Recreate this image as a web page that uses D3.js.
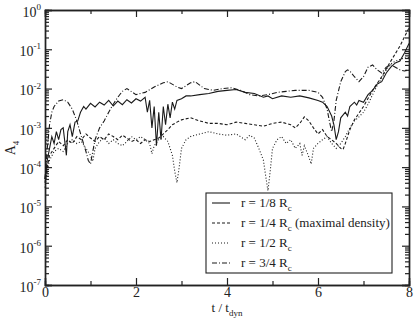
<!DOCTYPE html>
<html>
<head>
<meta charset="utf-8">
<script src="https://cdn.jsdelivr.net/npm/d3@7"></script>
<style>
  body { margin: 0; background: #fff; }
  svg text { font-family: "Liberation Serif", "DejaVu Serif", serif !important; }
  .axis path { stroke: #222; stroke-width: 1.4; }
  .axis line { stroke: #222; stroke-width: 1.2; }
  .series { fill: none; stroke: #1a1a1a; stroke-width: 1.1; }
</style>
</head>
<body>
<div id="container"></div>
<script>
// ticks
const xMajor = [0, 2, 4, 6, 8];
const xMinor = [1, 3, 5, 7];
const yExponents = [-7, -6, -5, -4, -3, -2, -1, 0];

// r = 1/8 Rc (solid)
const tSolid = [0, 0.05, 0.1, 0.15, 0.2, 0.25, 0.3, 0.35, 0.4, 0.44, 0.47, 0.5, 0.55, 0.6, 0.66, 0.72, 0.78, 0.85, 0.9, 1.0, 1.1, 1.2, 1.3, 1.4, 1.5, 1.6, 1.7, 1.8, 1.9, 2.0, 2.1, 2.2, 2.25, 2.3, 2.35, 2.4, 2.45, 2.5, 2.55, 2.6, 2.65, 2.7, 2.75, 2.8, 2.85, 2.9, 3.0, 3.1, 3.2, 3.4, 3.6, 3.8, 4.0, 4.2, 4.4, 4.6, 4.8, 4.9, 5.0, 5.2, 5.4, 5.6, 5.8, 6.0, 6.1, 6.2, 6.3, 6.35, 6.4, 6.45, 6.5, 6.6, 6.65, 6.7, 6.8, 6.85, 6.9, 7.0, 7.1, 7.2, 7.3, 7.4, 7.5, 7.6, 7.7, 7.8, 7.9, 8.0];
const aSolid = [5e-5, 1.5e-4, 3e-4, 6e-4, 4e-4, 8e-4, 5e-4, 9e-4, 1.0e-3, 4e-4, 2e-4, 8e-4, 1.2e-3, 6e-4, 1.4e-3, 1.5e-3, 2.5e-3, 3.5e-3, 3e-3, 4.2e-3, 3.4e-3, 4.5e-3, 3.8e-3, 5e-3, 3.6e-3, 4.8e-3, 3.9e-3, 5.2e-3, 4.3e-3, 5.5e-3, 4.8e-3, 6e-3, 2.5e-3, 5e-3, 1.0e-3, 3.5e-3, 3.5e-4, 2.5e-3, 5e-4, 3.5e-3, 1.2e-3, 4e-3, 1.8e-3, 4.5e-3, 3e-3, 5e-3, 5.5e-3, 6.5e-3, 6.5e-3, 7e-3, 7.5e-3, 8.5e-3, 9e-3, 9.5e-3, 8e-3, 7.5e-3, 6e-3, 6.5e-3, 5.5e-3, 6.5e-3, 6e-3, 6.5e-3, 5.8e-3, 5e-3, 4.5e-3, 3.5e-3, 2e-3, 1.2e-3, 5e-4, 8e-4, 1.8e-3, 2.5e-3, 2e-3, 3.5e-3, 4.5e-3, 3.8e-3, 5e-3, 4.5e-3, 7e-3, 9e-3, 1.3e-2, 1.5e-2, 2.5e-2, 3.5e-2, 4.5e-2, 5e-2, 8e-2, 0.14];

// r = 1/4 Rc (dashed)
const tDashed = [0, 0.05, 0.1, 0.2, 0.3, 0.4, 0.5, 0.6, 0.7, 0.8, 0.9, 1.0, 1.1, 1.2, 1.3, 1.4, 1.5, 1.6, 1.7, 1.8, 1.9, 2.0, 2.1, 2.2, 2.3, 2.4, 2.5, 2.6, 2.7, 2.8, 2.9, 3.0, 3.2, 3.4, 3.6, 3.8, 4.0, 4.2, 4.4, 4.6, 4.8, 5.0, 5.2, 5.4, 5.5, 5.6, 5.7, 5.8, 5.9, 6.0, 6.1, 6.2, 6.3, 6.4, 6.5, 6.55, 6.6, 6.7, 6.8, 7.0, 7.2, 7.4, 7.6, 7.8, 8.0];
const aDashed = [4e-5, 1e-4, 2e-4, 3e-4, 4.5e-4, 3.5e-4, 5e-4, 4e-4, 6e-4, 5e-4, 7e-4, 5.5e-4, 4.5e-4, 6e-4, 5e-4, 7e-4, 6e-4, 5e-4, 6.5e-4, 5.5e-4, 4.5e-4, 5e-4, 4e-4, 5e-4, 4.5e-4, 5e-4, 5.5e-4, 7e-4, 9e-4, 1.2e-3, 1.4e-3, 1.6e-3, 1.8e-3, 1.5e-3, 1.3e-3, 1.3e-3, 1.2e-3, 1.4e-3, 1.3e-3, 1.2e-3, 1.1e-3, 1.3e-3, 1.4e-3, 1.2e-3, 1.0e-3, 1.3e-3, 1.9e-3, 1.5e-3, 1.0e-3, 7e-4, 9e-4, 6e-4, 5e-4, 4e-4, 3e-4, 2.8e-4, 4e-4, 9e-4, 1.6e-3, 3.5e-3, 9e-3, 2e-2, 5e-2, 0.12, 0.35];

// r = 1/2 Rc (dotted)
const tDotted = [0, 0.05, 0.1, 0.2, 0.3, 0.4, 0.5, 0.6, 0.7, 0.8, 0.9, 1.0, 1.05, 1.1, 1.2, 1.3, 1.4, 1.5, 1.6, 1.7, 1.8, 1.9, 2.0, 2.1, 2.2, 2.3, 2.35, 2.4, 2.5, 2.6, 2.7, 2.8, 2.85, 2.9, 2.95, 3.0, 3.1, 3.2, 3.4, 3.6, 3.8, 4.0, 4.2, 4.4, 4.5, 4.6, 4.7, 4.8, 4.85, 4.9, 4.95, 5.0, 5.1, 5.2, 5.3, 5.4, 5.5, 5.6, 5.65, 5.7, 5.8, 5.85, 5.9, 6.0, 6.1, 6.2, 6.3, 6.4, 6.5, 6.6, 6.7, 6.8, 6.9, 7.0, 7.1, 7.2, 7.3, 7.4, 7.5, 7.6, 7.7, 7.8, 7.9, 8.0];
const aDotted = [3e-5, 8e-5, 1.5e-4, 2.5e-4, 3e-4, 2.5e-4, 4e-4, 5e-4, 4e-4, 4.5e-4, 3e-4, 2e-4, 1.4e-4, 3e-4, 4.5e-4, 5.5e-4, 4e-4, 5e-4, 4e-4, 3.5e-4, 4.5e-4, 6e-4, 5e-4, 6e-4, 5e-4, 4e-4, 2.2e-4, 3.5e-4, 5e-4, 6e-4, 4.5e-4, 2e-4, 8e-5, 4e-5, 1e-4, 3e-4, 5e-4, 6e-4, 7e-4, 8e-4, 7e-4, 6.5e-4, 7e-4, 5e-4, 6.5e-4, 5.5e-4, 3e-4, 1.5e-4, 6e-5, 2.5e-5, 8e-5, 3e-4, 5e-4, 6e-4, 4e-4, 5e-4, 3e-4, 4e-4, 2e-4, 3.5e-4, 1.8e-4, 1.2e-4, 3e-4, 4e-4, 5e-4, 6e-4, 4e-4, 3e-4, 4e-4, 6e-4, 1e-3, 1.5e-3, 1.9e-3, 2.5e-3, 4e-3, 7e-3, 1.2e-2, 1.8e-2, 3e-2, 4.2e-2, 5e-2, 5.5e-2, 6e-2, 6.2e-2];

// r = 3/4 Rc (dash-dot)
const tDashDot = [0, 0.05, 0.1, 0.15, 0.2, 0.3, 0.4, 0.5, 0.6, 0.7, 0.8, 0.9, 0.95, 1.0, 1.05, 1.1, 1.2, 1.3, 1.4, 1.5, 1.6, 1.7, 1.8, 2.0, 2.2, 2.4, 2.6, 2.7, 2.9, 3.0, 3.2, 3.3, 3.5, 3.7, 3.9, 4.1, 4.3, 4.5, 4.7, 4.9, 5.1, 5.3, 5.5, 5.8, 6.0, 6.1, 6.2, 6.25, 6.3, 6.35, 6.4, 6.5, 6.6, 6.65, 6.7, 6.8, 6.9, 7.0, 7.1, 7.2, 7.3, 7.4, 7.5, 7.6, 7.7, 7.8, 7.9, 8.0];
const aDashDot = [5e-5, 3e-4, 1.2e-3, 2.5e-3, 3.5e-3, 4.8e-3, 5.2e-3, 4.5e-3, 3e-3, 1.5e-3, 6e-4, 2.5e-4, 1.5e-4, 1.2e-4, 2.5e-4, 5e-4, 1e-3, 1.5e-3, 2.5e-3, 4e-3, 6e-3, 8.5e-3, 1e-2, 7e-3, 8e-3, 1.1e-2, 1.4e-2, 1.5e-2, 1.1e-2, 1e-2, 1.4e-2, 1.5e-2, 1e-2, 9e-3, 1e-2, 1.05e-2, 9e-3, 7e-3, 6.5e-3, 7e-3, 8e-3, 8.5e-3, 9e-3, 9e-3, 8e-3, 6e-3, 3e-3, 1.5e-3, 8e-4, 1.5e-3, 5e-3, 1.5e-2, 2.7e-2, 3e-2, 2.8e-2, 2e-2, 1.5e-2, 2e-2, 3.5e-2, 4e-2, 3e-2, 2.5e-2, 3.5e-2, 4e-2, 3.5e-2, 3e-2, 2.8e-2, 3e-2];

const legendLabels = ['r = 1/8 R', 'r = 1/4 R', 'r = 1/2 R', 'r = 3/4 R'];
const legendExtra = ['', ' (maximal density)', '', ''];
const dashes = [null, '3,2', '1,2', '5,2,1,2'];

const width = 415;
const height = 321;
const margin = { top: 10, right: 6, bottom: 36, left: 45 };

const svg = d3.select('#container').append('svg')
    .attr('width', width)
    .attr('height', height);

const xScale = d3.scaleLinear().domain([0, 8]).range([margin.left, width - margin.right]);
const yScale = d3.scaleLog().domain([1e-7, 1]).range([height - margin.bottom, margin.top]);

const x0 = margin.left, x1 = width - margin.right;
const y0 = height - margin.bottom, y1 = margin.top;

// minor log ticks
const yMinor = [];
yExponents.slice(0, -1).forEach(e => {
    for (let k = 2; k <= 9; k++) yMinor.push(k * Math.pow(10, e));
});
const yMajor = yExponents.map(e => Math.pow(10, e));

// x axes (bottom labelled, top ticks only)
svg.append('g').attr('class', 'axis').attr('transform', `translate(0,${y0})`)
    .call(d3.axisBottom(xScale).tickValues(xMinor).tickSize(-4).tickFormat(''));
const xAxis = svg.append('g').attr('class', 'axis').attr('transform', `translate(0,${y0})`)
    .call(d3.axisBottom(xScale).tickValues(xMajor).tickSize(-7).tickPadding(2).tickFormat(d3.format('d')));
xAxis.selectAll('text').attr('font-size', 14).attr('fill', '#222');

svg.append('g').attr('class', 'axis').attr('transform', `translate(0,${y1})`)
    .call(d3.axisTop(xScale).tickValues(xMinor).tickSize(-4).tickFormat(''));
svg.append('g').attr('class', 'axis').attr('transform', `translate(0,${y1})`)
    .call(d3.axisTop(xScale).tickValues(xMajor).tickSize(-7).tickFormat(''));

// y axes
svg.append('g').attr('class', 'axis').attr('transform', `translate(${x0},0)`)
    .call(d3.axisLeft(yScale).tickValues(yMinor).tickSize(-4).tickFormat(''));
const yAxis = svg.append('g').attr('class', 'axis').attr('transform', `translate(${x0},0)`)
    .call(d3.axisLeft(yScale).tickValues(yMajor).tickSize(-7).tickPadding(4).tickFormat(''));
yAxis.selectAll('.tick text').each(function (d) {
    const t = d3.select(this)
        .attr('font-size', 14).attr('fill', '#222')
        .attr('dy', '0.45em');
    t.append('tspan').text('10');
    t.append('tspan').attr('font-size', 9).attr('dy', '-0.75em').text(Math.round(Math.log10(d)));
});

svg.append('g').attr('class', 'axis').attr('transform', `translate(${x1},0)`)
    .call(d3.axisRight(yScale).tickValues(yMinor).tickSize(-4).tickFormat(''));
svg.append('g').attr('class', 'axis').attr('transform', `translate(${x1},0)`)
    .call(d3.axisRight(yScale).tickValues(yMajor).tickSize(-7).tickFormat(''));

// series
const line = d3.line().x(d => xScale(d[0])).y(d => yScale(d[1]));
const series = [
    d3.zip(tSolid, aSolid),
    d3.zip(tDashed, aDashed),
    d3.zip(tDotted, aDotted),
    d3.zip(tDashDot, aDashDot)
];
series.forEach((s, i) => {
    svg.append('path')
        .attr('class', 'series')
        .attr('d', line(s))
        .attr('stroke-dasharray', dashes[i]);
});

// legend
const lg = svg.append('g').attr('transform', 'translate(206,193)');
lg.append('rect').attr('width', 186).attr('height', 80)
    .attr('fill', '#fff').attr('stroke', '#222').attr('stroke-width', 1.1);
legendLabels.forEach((lab, i) => {
    const yy = 10 + i * 20;
    lg.append('line').attr('x1', 6).attr('x2', 24).attr('y1', yy).attr('y2', yy)
        .attr('stroke', '#1a1a1a').attr('stroke-width', 1.1)
        .attr('stroke-dasharray', dashes[i]);
    const t = lg.append('text').attr('x', 35).attr('y', yy + 4).attr('font-size', 13).attr('fill', '#222');
    t.append('tspan').text(lab);
    t.append('tspan').attr('font-size', 9).attr('dy', 4).text('c');
    if (legendExtra[i]) t.append('tspan').attr('dy', -4).text(legendExtra[i]);
});

// axis titles
const xt = svg.append('text').attr('x', 227).attr('y', 312).attr('text-anchor', 'middle')
    .attr('font-size', 13).attr('fill', '#222');
xt.append('tspan').text('t / t');
xt.append('tspan').attr('font-size', 9).attr('dy', 4).text('dyn');

const yt = svg.append('text').attr('transform', 'translate(15,148) rotate(-90)')
    .attr('text-anchor', 'middle').attr('font-size', 14).attr('fill', '#222');
yt.append('tspan').text('A');
yt.append('tspan').attr('font-size', 9).attr('dy', 4).text('4');
</script>
</body>
</html>
